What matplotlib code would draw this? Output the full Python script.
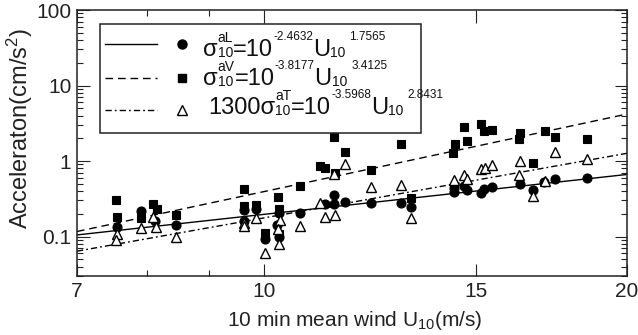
import numpy as np
import matplotlib
matplotlib.use("Agg")
import matplotlib.pyplot as plt
import matplotlib.transforms as mtransforms
from matplotlib.patches import Rectangle
from matplotlib.ticker import FixedLocator, FixedFormatter, NullFormatter, LogLocator

plt.rcParams['font.family'] = ['Liberation Sans', 'DejaVu Sans']
plt.rcParams['mathtext.fontset'] = 'custom'
plt.rcParams['mathtext.rm'] = 'Liberation Sans'
plt.rcParams['mathtext.it'] = 'Liberation Sans:italic'
plt.rcParams['mathtext.default'] = 'regular'

# ---- data: 10 min mean wind U10 (m/s) vs acceleration (cm/s^2) ----
wind_L = [7.55, 7.91, 8.13, 8.46, 9.62, 9.62, 9.86, 10.02, 10.30, 10.26, 10.30,
          10.71, 11.23, 11.43, 11.43, 11.68, 12.28, 12.98, 13.25, 14.37, 14.37,
          14.66, 14.75, 15.14, 15.21, 15.46, 16.30, 16.73, 17.08, 17.43, 18.52]
acc_L = [0.135, 0.218, 0.160, 0.143, 0.225, 0.161, 0.230, 0.092, 0.205, 0.142, 0.098,
         0.205, 0.268, 0.352, 0.268, 0.290, 0.282, 0.282, 0.248, 0.444, 0.388,
         0.470, 0.410, 0.382, 0.422, 0.450, 0.495, 0.412, 0.535, 0.571, 0.600]

wind_V = [7.54, 7.56, 7.91, 8.10, 8.15, 8.46, 9.62, 9.62, 9.86, 10.02, 10.27, 10.30,
          10.30, 10.71, 11.13, 11.23, 11.43, 11.46, 11.68, 12.28, 12.98, 13.25,
          14.36, 14.40, 14.66, 14.75, 15.14, 15.23, 15.46, 16.30, 16.28, 16.72,
          17.09, 17.43, 18.52]
acc_V = [0.305, 0.179, 0.175, 0.268, 0.235, 0.190, 0.432, 0.250, 0.262, 0.110, 0.337, 0.235,
         0.108, 0.466, 0.855, 0.814, 2.08, 0.700, 1.31, 0.760, 1.68, 0.322,
         1.28, 1.69, 2.84, 1.82, 3.05, 2.52, 2.60, 2.35, 1.98, 0.955,
         2.50, 2.06, 1.96]

wind_T = [7.56, 7.54, 7.91, 8.10, 8.145, 8.46, 9.62, 9.62, 9.86, 10.02, 10.31, 10.27,
          10.29, 10.71, 11.13, 11.23, 11.43, 11.46, 11.68, 12.28, 12.98, 13.25,
          14.37, 14.66, 14.75, 15.15, 15.24, 15.46, 16.29, 16.28, 16.73, 17.10,
          17.43, 18.52]
acc_T = [0.108, 0.090, 0.131, 0.180, 0.135, 0.099, 0.150, 0.139, 0.178, 0.0604, 0.163, 0.124,
         0.079, 0.139, 0.282, 0.183, 0.664, 0.193, 0.919, 0.448, 0.476, 0.175,
         0.565, 0.644, 0.571, 0.773, 0.814, 0.899, 1.01, 0.655, 0.348, 0.545,
         1.32, 1.05]

# power-law fits: acc = 10**log_coef * U10**exponent
fit_log_coef = [-2.4632, -3.8177, -3.5968]
fit_exponent = [1.7565, 3.4125, 2.8431]

x_ticks = [7, 10, 15, 20]
x_tick_labels = ['7', '10', '15', '20']
x_minor_ticks = [8, 9]
y_ticks = [0.1, 1, 10, 100]
y_tick_labels = ['0.1', '1', '10', '100']

W, H = 638, 335
fig = plt.figure(figsize=(W / 100, H / 100), dpi=100)
ax = fig.add_axes([77 / W, 1 - 276 / H, 550 / W, 266 / H])

ax.set_xscale('log')
ax.set_yscale('log')
ax.set_xlim(7, 20)
ax.set_ylim(0.03, 100)

dash_v = (0, (5.5, 3.5))
dash_t = (0, (4.5, 2.2, 1.3, 2.2))
styles = ['-', dash_v, dash_t]

u = np.geomspace(7, 20, 200)
for a, b, ls in zip(fit_log_coef, fit_exponent, styles):
    ax.plot(u, 10 ** a * u ** b, color='black', lw=1.0, linestyle=ls, zorder=2)

ax.plot(wind_L, acc_L, 'o', ms=6.5, mfc='black', mec='black', mew=0.8, zorder=3)
ax.plot(wind_V, acc_V, 's', ms=6.0, mfc='black', mec='black', mew=0.8, zorder=3)
ax.plot(wind_T, acc_T, '^', ms=6.5, mfc='white', mec='black', mew=1.0, zorder=4)

ax.xaxis.set_major_locator(FixedLocator(x_ticks))
ax.xaxis.set_major_formatter(FixedFormatter(x_tick_labels))
ax.xaxis.set_minor_locator(FixedLocator(x_minor_ticks))
ax.xaxis.set_minor_formatter(NullFormatter())
ax.yaxis.set_major_locator(FixedLocator(y_ticks))
ax.yaxis.set_major_formatter(FixedFormatter(y_tick_labels))
ax.yaxis.set_minor_locator(LogLocator(base=10, subs=np.arange(2, 10)))
ax.yaxis.set_minor_formatter(NullFormatter())

ax.tick_params(which='both', direction='in', top=True, right=True,
               labelsize=15, width=0.8, colors='#222222')
ax.tick_params(which='major', length=9, pad=4)
ax.tick_params(which='minor', length=4.5)
for sp in ax.spines.values():
    sp.set_linewidth(1.1)
    sp.set_color('#222222')

ax.set_xlabel('10 min mean wind U$_{10}$(m/s)', fontsize=15, color='#222222')
ax.set_ylabel('Acceleraton(cm/s$^{2}$)', fontsize=17, color='#222222')
ax.xaxis.set_label_coords(0.505, -0.125)
ax.yaxis.set_label_coords(-0.076, 0.555)

# ---- legend box, drawn in pixel coordinates of the figure ----
pix = mtransforms.Affine2D().scale(1 / W, -1 / H).translate(0, 1) + fig.transFigure

fig.patches.append(Rectangle((100, 24), 321, 109, transform=pix, fill=True,
                             facecolor='white', edgecolor='#222222', lw=1.1, zorder=5))

row_line_y = [44, 77.5, 109.5]
row_base_y = [56, 85, 114]
markers = [dict(marker='o', ms=6.5, mfc='black', mec='black'),
           dict(marker='s', ms=6.0, mfc='black', mec='black'),
           dict(marker='^', ms=6.5, mfc='white', mec='black', mew=1.0)]
for ly, ls, mk in zip(row_line_y, styles, markers):
    fig.add_artist(plt.Line2D([105, 157], [ly, ly], transform=pix, color='black',
                              lw=1.0, linestyle=ls, zorder=6))
    fig.add_artist(plt.Line2D([181.5], [ly], transform=pix, linestyle='none',
                              zorder=6, **mk))

renderer = fig.canvas.get_renderer()
MAIN, SUB, SUP = 17, 10, 8.5


def draw_runs(x, base, runs):
    """Lay out text pieces left to right; a list entry stacks pieces at one x."""
    for item in runs:
        if isinstance(item, (int, float)):
            x += item
            continue
        group = item if isinstance(item, list) else [item]
        widest = 0
        for txt, size, dy in group:
            t = fig.text(x, base + dy, txt, transform=pix, fontsize=size,
                         va='baseline', ha='left', color='#111111', zorder=7)
            widest = max(widest, t.get_window_extent(renderer).width)
        x += widest


def eq_runs(prefix, tag, coef, expo):
    return [(prefix, MAIN, 0), [('10', SUB, 1), (tag, SUB, -14)],
            ('=10', MAIN, 0), ('%.4f' % coef, SUP, -16),
            ('U', MAIN, 0), ('10', SUB, 1), 4, ('%.4f' % expo, SUP, -16)]


prefixes = ['σ', 'σ', '1300σ']
tags = ['aL', 'aV', 'aT']
starts = [203, 203, 208]
for pre, tag, a, b, x0, yb in zip(prefixes, tags, fit_log_coef, fit_exponent,
                                   starts, row_base_y):
    draw_runs(x0, yb, eq_runs(pre, tag, a, b))

fig.savefig('out.png', dpi=100, facecolor='white')
